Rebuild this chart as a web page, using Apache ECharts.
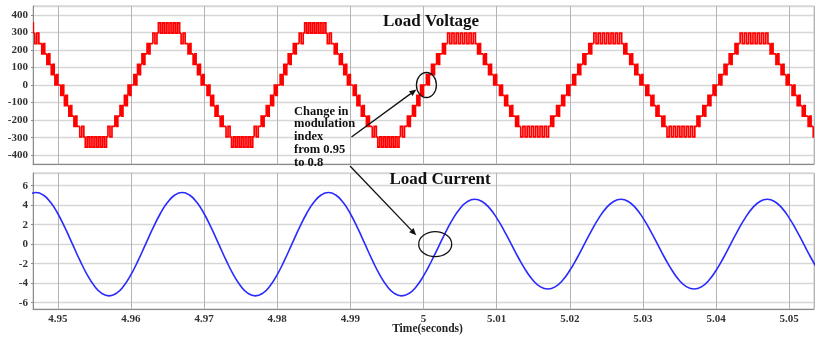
<!DOCTYPE html>
<html><head><meta charset="utf-8">
<script src="https://cdn.jsdelivr.net/npm/echarts@6/dist/echarts.min.js"></script>
<style>html,body{margin:0;padding:0;background:#fff}#c{width:815px;height:340px}</style>
</head><body><div id="c"></div>
<script>
// ---------- DATA ----------
// Load voltage: PWM switching bands [tStart, tEnd, levelA, levelB] (s, V); plateaus join consecutive bands
const voltageBands = [
  [4.9430,4.94355,236,295],[4.94375,4.94665,295,354],[4.94685,4.9474,236,295],[4.9478,4.9482,177,236],[4.9485,4.9489,118,177],[4.9491,4.9495,59,118],[4.9496,4.9500,0,59],
  [4.9504,4.9508,-59,0],[4.9509,4.9513,-118,-59],[4.9515,4.9519,-177,-118],[4.9522,4.9526,-236,-177],[4.9530,4.95355,-295,-236],[4.95375,4.95665,-354,-295],[4.95685,4.9574,-295,-236],[4.9578,4.9582,-236,-177],[4.9585,4.9589,-177,-118],[4.9591,4.9595,-118,-59],[4.9596,4.9600,-59,0],
  [4.9604,4.9608,0,59],[4.9609,4.9613,59,118],[4.9615,4.9619,118,177],[4.9622,4.9626,177,236],[4.9630,4.96355,236,295],[4.96375,4.96665,295,354],[4.96685,4.9674,236,295],[4.9678,4.9682,177,236],[4.9685,4.9689,118,177],[4.9691,4.9695,59,118],[4.9696,4.9700,0,59],
  [4.9704,4.9708,-59,0],[4.9709,4.9713,-118,-59],[4.9715,4.9719,-177,-118],[4.9722,4.9726,-236,-177],[4.9730,4.97355,-295,-236],[4.97375,4.97665,-354,-295],[4.97685,4.9774,-295,-236],[4.9778,4.9782,-236,-177],[4.9785,4.9789,-177,-118],[4.9791,4.9795,-118,-59],[4.9796,4.9800,-59,0],
  [4.9804,4.9808,0,59],[4.9809,4.9813,59,118],[4.9815,4.9819,118,177],[4.9822,4.9826,177,236],[4.9830,4.98355,236,295],[4.98375,4.98665,295,354],[4.98685,4.9874,236,295],[4.9878,4.9882,177,236],[4.9885,4.9889,118,177],[4.9891,4.9895,59,118],[4.9896,4.9900,0,59],
  [4.9904,4.9908,-59,0],[4.9909,4.9913,-118,-59],[4.9915,4.9919,-177,-118],[4.9922,4.9926,-236,-177],[4.9930,4.99355,-295,-236],[4.99375,4.99665,-354,-295],[4.99685,4.9974,-295,-236],[4.9978,4.9982,-236,-177],[4.9985,4.9989,-177,-118],[4.9991,4.9995,-118,-59],[4.9996,5.0000,-59,0],
  [5.0004,5.0008,0,59],[5.0011,5.0015,59,118],[5.0018,5.0022,118,177],[5.0026,5.0030,177,236],[5.0033,5.0071,236,295],[5.0074,5.0078,177,236],[5.0082,5.0086,118,177],[5.0089,5.0093,59,118],[5.0096,5.0100,0,59],
  [5.0104,5.0108,-59,0],[5.0111,5.0115,-118,-59],[5.0118,5.0122,-177,-118],[5.0126,5.0130,-236,-177],[5.0133,5.0171,-295,-236],[5.0174,5.0178,-236,-177],[5.0182,5.0186,-177,-118],[5.0189,5.0193,-118,-59],[5.0196,5.0200,-59,0],
  [5.0204,5.0208,0,59],[5.0211,5.0215,59,118],[5.0218,5.0222,118,177],[5.0226,5.0230,177,236],[5.0233,5.0271,236,295],[5.0274,5.0278,177,236],[5.0282,5.0286,118,177],[5.0289,5.0293,59,118],[5.0296,5.0300,0,59],
  [5.0304,5.0308,-59,0],[5.0311,5.0315,-118,-59],[5.0318,5.0322,-177,-118],[5.0326,5.0330,-236,-177],[5.0333,5.0371,-295,-236],[5.0374,5.0378,-236,-177],[5.0382,5.0386,-177,-118],[5.0389,5.0393,-118,-59],[5.0396,5.0400,-59,0],
  [5.0404,5.0408,0,59],[5.0411,5.0415,59,118],[5.0418,5.0422,118,177],[5.0426,5.0430,177,236],[5.0433,5.0471,236,295],[5.0474,5.0478,177,236],[5.0482,5.0486,118,177],[5.0489,5.0493,59,118],[5.0496,5.0500,0,59],
  [5.0504,5.0508,-59,0],[5.0511,5.0515,-118,-59],[5.0518,5.0522,-177,-118],[5.0526,5.0530,-236,-177],[5.0533,5.0571,-295,-236]
];

// Load current samples
const currentTime = [
  4.946,4.947,4.948,4.949,4.950,4.951,4.952,4.953,4.954,4.955,4.956,4.957,4.958,4.959,4.960,4.961,4.962,4.963,4.964,4.965,
  4.966,4.967,4.968,4.969,4.970,4.971,4.972,4.973,4.974,4.975,4.976,4.977,4.978,4.979,4.980,4.981,4.982,4.983,4.984,4.985,
  4.986,4.987,4.988,4.989,4.990,4.991,4.992,4.993,4.994,4.995,4.996,4.997,4.998,4.999,5.000,5.001,5.002,5.003,5.004,5.005,
  5.006,5.007,5.008,5.009,5.010,5.011,5.012,5.013,5.014,5.015,5.016,5.017,5.018,5.019,5.020,5.021,5.022,5.023,5.024,5.025,
  5.026,5.027,5.028,5.029,5.030,5.031,5.032,5.033,5.034,5.035,5.036,5.037,5.038,5.039,5.040,5.041,5.042,5.043,5.044,5.045,
  5.046,5.047,5.048,5.049,5.050,5.051,5.052,5.053,5.054
];
const currentValue = [
  5.04,5.30,5.04,4.29,3.12,1.64,0,-1.64,-3.12,-4.29,-5.04,-5.30,-5.04,-4.29,-3.12,-1.64,0,1.64,3.12,4.29,
  5.04,5.30,5.04,4.29,3.12,1.64,0,-1.64,-3.12,-4.29,-5.04,-5.30,-5.04,-4.29,-3.12,-1.64,0,1.64,3.12,4.29,
  5.04,5.30,5.04,4.29,3.12,1.64,0,-1.64,-3.12,-4.29,-5.04,-5.30,-5.06,-4.36,-3.26,-1.88,-0.35,1.18,2.56,3.66,
  4.36,4.60,4.38,3.72,2.70,1.42,0,-1.42,-2.70,-3.72,-4.38,-4.60,-4.38,-3.72,-2.70,-1.42,0,1.42,2.70,3.72,
  4.38,4.60,4.38,3.72,2.70,1.42,0,-1.42,-2.70,-3.72,-4.38,-4.60,-4.38,-3.72,-2.70,-1.42,0,1.42,2.70,3.72,
  4.38,4.60,4.38,3.72,2.70,1.42,0,-1.42,-2.70
];

// Tick labels
const timeTickValues = [4.95,4.96,4.97,4.98,4.99,5.00,5.01,5.02,5.03,5.04,5.05];
const timeTickLabels = ['4.95','4.96','4.97','4.98','4.99','5','5.01','5.02','5.03','5.04','5.05'];
const voltageTickValues = [-400,-300,-200,-100,0,100,200,300,400];
const currentTickValues = [-6,-4,-2,0,2,4,6];

// Annotation anchors (data coordinates)
const voltageChangePoint = [5.0004, 0];
const currentChangePoint = [5.0016, 0];
const annotationText = ['Change in','modulation','index','from 0.95','to 0.8'];

// ---------- CHART ----------
const FONT = '"Liberation Serif", "Times New Roman", serif';
const chart = echarts.init(document.getElementById('c'), null, {renderer: 'canvas'});

function labelFrom(values, labels) {
  return function (v) {
    for (let i = 0; i < values.length; i++) {
      if (Math.abs(values[i] - v) < 1e-7) return labels ? labels[i] : String(values[i]);
    }
    return '';
  };
}

function common(a, b) {
  if (a[2] === b[2] || a[2] === b[3]) return a[2];
  return a[3];
}

const axisLabelStyle = {color: '#333', fontFamily: FONT, fontWeight: 'bold', fontSize: 11};
const hSplit = {show: true, lineStyle: {color: '#d6d6d6', width: 1.3}};
const vSplit = {show: true, lineStyle: {color: '#b4b4b4', width: 1}};
const axLine = {show: true, onZero: false, lineStyle: {color: '#8a8a8a', width: 1}};

chart.setOption({
  animation: false,
  backgroundColor: '#fff',
  grid: [
    {left: 33, top: 6, right: 1, height: 158, show: true, borderColor: '#c4c4c4', borderWidth: 1},
    {left: 33, top: 173, right: 1, height: 136, show: true, borderColor: '#c4c4c4', borderWidth: 1}
  ],
  xAxis: [
    {type: 'value', gridIndex: 0, min: 4.9466, max: 5.0534, splitNumber: 10, minInterval: 0.01, maxInterval: 0.01,
     axisLabel: {show: false}, axisTick: {show: false}, axisLine: axLine, splitLine: vSplit},
    {type: 'value', gridIndex: 1, min: 4.9466, max: 5.0534, splitNumber: 10, minInterval: 0.01, maxInterval: 0.01,
     axisLabel: Object.assign({margin: 5, formatter: labelFrom(timeTickValues, timeTickLabels), showMinLabel: false, showMaxLabel: false}, axisLabelStyle),
     axisTick: {show: false}, axisLine: axLine, splitLine: vSplit}
  ],
  yAxis: [
    {type: 'value', gridIndex: 0, min: -450, max: 450, splitNumber: 9, minInterval: 100, maxInterval: 100,
     axisLabel: Object.assign({margin: 5, formatter: labelFrom(voltageTickValues), showMinLabel: false, showMaxLabel: false}, axisLabelStyle),
     axisTick: {show: true, length: 2, lineStyle: {color: '#8a8a8a'}}, axisLine: axLine, splitLine: hSplit},
    {type: 'value', gridIndex: 1, min: -6.65, max: 7.3, splitNumber: 7, minInterval: 2, maxInterval: 2,
     axisLabel: Object.assign({margin: 5, formatter: labelFrom(currentTickValues), showMinLabel: false, showMaxLabel: false}, axisLabelStyle),
     axisTick: {show: true, length: 2, lineStyle: {color: '#8a8a8a'}}, axisLine: axLine, splitLine: hSplit}
  ],
  series: [
    {
      type: 'custom', name: 'Load Voltage', xAxisIndex: 0, yAxisIndex: 0, clip: true,
      data: voltageBands,
      encode: {x: [0, 1], y: [2, 3]},
      renderItem: function (params, api) {
        const i = params.dataIndex;
        const b = voltageBands[i];
        const prev = voltageBands[i - 1], next = voltageBands[i + 1];
        const startLv = prev ? common(prev, b) : b[2];
        const endLv = next ? common(b, next) : startLv;
        const otherLv = (startLv === b[2]) ? b[3] : b[2];
        const x1 = api.coord([b[0], startLv])[0];
        const x2 = api.coord([b[1], startLv])[0];
        const yStart = api.coord([b[0], startLv])[1];
        const yOther = api.coord([b[0], otherLv])[1];
        const w = x2 - x1;
        let n = Math.max(1, Math.round(w / 2.1) + 1);
        const needEven = (startLv === endLv);
        if (needEven && n % 2 === 1) n += 1;
        if (!needEven && n % 2 === 0) n += 1;
        const pts = [[x1, yStart]];
        let cur = yStart;
        for (let j = 0; j < n; j++) {
          const x = n === 1 ? (x1 + x2) / 2 : x1 + w * j / (n - 1);
          pts.push([x, cur]);
          cur = (cur === yStart) ? yOther : yStart;
          pts.push([x, cur]);
        }
        if (next) {
          pts.push([api.coord([next[0], endLv])[0], cur]);
        } else {
          pts.push([x2, cur]);
        }
        return {type: 'polyline', shape: {points: pts},
                style: {stroke: '#ff0000', fill: 'none', lineWidth: 1.7, lineJoin: 'miter'}};
      },
      z: 3
    },
    {
      type: 'line', name: 'Load Current', xAxisIndex: 1, yAxisIndex: 1,
      data: currentTime.map((t, k) => [t, currentValue[k]]),
      showSymbol: false, symbol: 'none', smooth: 0.5,
      lineStyle: {color: '#2a2aff', width: 1.6},
      z: 3
    }
  ]
});

// ---------- ANNOTATIONS ----------
function arrowEls(x1, y1, x2, y2) {
  const dx = x2 - x1, dy = y2 - y1, L = Math.hypot(dx, dy), ux = dx / L, uy = dy / L;
  const hl = 7, hw = 3;
  const bx = x2 - ux * hl, by = y2 - uy * hl;
  return [
    {type: 'line', shape: {x1: x1, y1: y1, x2: bx, y2: by}, style: {stroke: '#111', lineWidth: 1.3}, z: 10},
    {type: 'polygon', shape: {points: [[x2, y2], [bx - uy * hw, by + ux * hw], [bx + uy * hw, by - ux * hw]]}, style: {fill: '#111'}, z: 10}
  ];
}

const vc = chart.convertToPixel({gridIndex: 0}, voltageChangePoint);
const cc = chart.convertToPixel({gridIndex: 1}, currentChangePoint);
const textLeft = 294, textTop = 105;

const g = [
  {type: 'text', z: 10, style: {text: 'Load Voltage', x: 431, y: 21.5, align: 'center', verticalAlign: 'middle',
    font: 'bold 17px ' + FONT, fill: '#111'}},
  {type: 'text', z: 10, style: {text: 'Load Current', x: 440, y: 180, align: 'center', verticalAlign: 'middle',
    font: 'bold 17px ' + FONT, fill: '#111'}},
  {type: 'text', z: 10, style: {text: 'Time(seconds)', x: 427.5, y: 329, align: 'center', verticalAlign: 'middle',
    font: 'bold 11.5px ' + FONT, fill: '#222'}},
  {type: 'text', z: 10, style: {text: annotationText.join('\n'), x: textLeft, y: textTop, align: 'left', verticalAlign: 'top',
    font: 'bold 12.5px ' + FONT, lineHeight: 12.8, fill: '#111'}},
  {type: 'ellipse', z: 10, shape: {cx: vc[0], cy: vc[1], rx: 10, ry: 12.5}, style: {stroke: '#111', fill: 'none', lineWidth: 1.3}},
  {type: 'ellipse', z: 10, shape: {cx: cc[0], cy: cc[1], rx: 16.5, ry: 12.5}, style: {stroke: '#111', fill: 'none', lineWidth: 1.3}}
].concat(
  arrowEls(351.5, 137, vc[0] - 10, vc[1] + 4.5),
  arrowEls(350, 166, cc[0] - 19, cc[1] - 9)
);
chart.setOption({graphic: g});
</script>
</body></html>
